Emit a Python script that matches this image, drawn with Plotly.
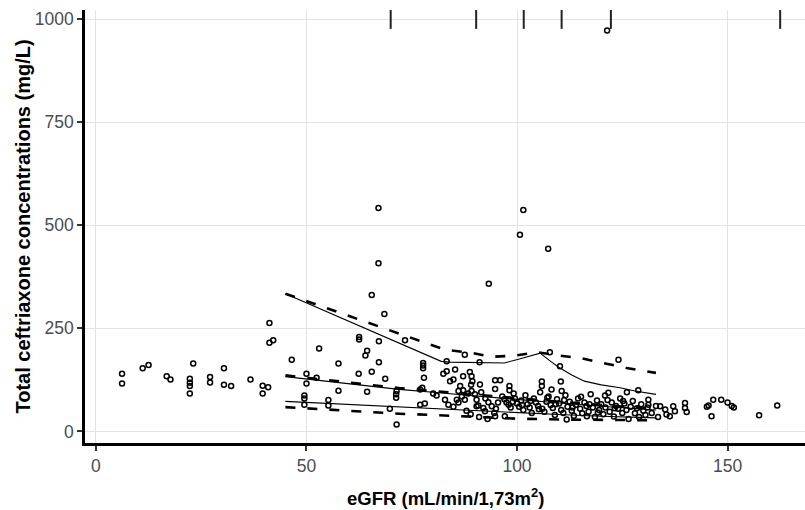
import plotly.graph_objects as go

# ---- observed data (eGFR, total ceftriaxone concentration) ----
obs_egfr = [
    6.2, 6.2, 11.1, 12.5, 16.8, 17.7, 22.3, 22.3, 22.3, 22.3, 23.1, 27.1, 27.1, 30.4, 30.4, 32.1,
    36.7, 39.6, 39.6, 40.9, 41.2, 41.2, 42.1,
    46.5, 50.0, 50.0, 52.4, 49.5, 49.5, 49.5, 53.0, 55.2, 55.2, 57.6, 57.6, 62.5, 62.5, 65.5, 68.5,
    67.2, 64.4, 64.0, 62.4, 65.5, 67.2, 68.7, 64.4, 71.4, 71.3, 71.3, 69.8, 67.1, 67.1, 93.3, 101.5,
    100.7, 107.4, 121.4,
    73.4, 87.6, 83.3, 91.1, 77.7, 77.7, 77.7, 77.9, 82.5, 83.3, 85.3, 84.1, 84.9, 87.2, 88.8, 89.2,
    89.4, 89.1, 91.2, 94.8, 96.0, 94.8, 86.5, 86.1, 87.2, 77.0, 77.5, 80.1, 80.9, 71.4, 77.0, 78.1,
    82.9, 83.7, 84.9, 85.7, 86.1, 86.9, 87.6, 88.4, 89.2, 90.0, 90.4, 90.8, 92.0, 93.2, 94.0, 94.6,
    90.4, 92.4, 94.8,
    107.8, 98.2, 98.2, 105.9, 105.9, 110.4, 108.2, 110.6, 120.9, 121.7, 97.1, 111.8, 116.6, 110.2,
    96.5, 97.0, 97.5, 98.0, 98.5, 99.0, 99.5, 100.0, 100.5, 101.0, 101.5, 102.0, 102.5, 103.0, 103.5,
    104.0, 104.5, 105.0, 105.5, 106.0, 106.5, 107.0, 107.5, 108.0, 108.5, 109.0, 109.5, 110.0, 110.5,
    111.0, 111.5, 112.0, 112.5, 113.0, 113.5, 114.0, 114.5, 115.0, 115.5, 116.0, 116.5, 117.0, 117.5,
    118.0, 118.5, 119.0, 119.5, 120.0, 120.5, 121.0, 122.0, 122.5, 123.0, 123.5, 124.0, 124.5, 125.0,
    125.5, 126.0, 126.5, 127.0, 127.5, 128.0, 128.5, 129.0, 129.5, 130.0, 130.5, 131.0, 132.0, 133.0,
    133.5, 88.0, 89.0, 91.0, 93.0, 95.0, 95.5, 92.5, 91.5,
    124.1, 126.1, 128.8, 131.2, 131.2, 134.0, 135.2, 135.5, 136.3, 137.1, 137.5, 139.9, 139.9, 140.3,
    145.1, 146.6, 146.2, 145.5, 148.5, 150.0, 151.0, 151.5, 157.5, 161.8,
    99.2, 101.2, 103.2, 105.2, 107.2, 109.2, 111.2, 113.2, 115.2, 117.2, 119.2, 121.5, 123.2, 125.2,
]
obs_conc = [
    140, 116, 153, 161, 134, 126, 128, 118, 110, 92, 165, 132, 119, 153, 113, 110,
    126, 111, 92, 107, 263, 215, 221,
    174, 140, 116, 130, 87, 80, 65, 201, 76, 63, 165, 99, 229, 223, 331, 285,
    219, 196, 184, 140, 145, 168, 128, 96, 17, 90, 82, 55, 542, 408, 358, 537,
    477, 443, 972,
    221, 186, 170, 168, 166, 160, 153, 130, 140, 146, 150, 122, 126, 134, 144, 134,
    122, 113, 114, 124, 124, 103, 110, 98, 100, 102, 106, 92, 87, 98, 65, 68,
    77, 65, 60, 77, 70, 85, 77, 92, 98, 90, 77, 63, 57, 71, 61, 45,
    61, 49, 37,
    192, 110, 100, 121, 110, 121, 102, 98, 87, 94, 37, 29, 37, 158,
    85, 78, 70, 65, 58, 72, 80, 68, 60, 75, 52, 88, 66, 58, 45,
    80, 70, 62, 95, 55, 48, 72, 85, 64, 57, 40, 78, 68, 52,
    45, 88, 60, 72, 50, 38, 65, 80, 55, 44, 70, 62, 48, 90,
    58, 35, 75, 52, 66, 42, 58, 48, 70, 36, 62, 55, 80, 45,
    68, 52, 30, 60, 74, 44, 56, 35, 66, 50, 40, 58, 45, 62,
    35, 50, 42, 35, 30, 55, 70, 80, 95,
    174, 95, 100, 77, 65, 61, 53, 41, 37, 61, 49, 69, 57, 47,
    60, 77, 37, 63, 77, 70, 62, 58, 39, 63,
    92, 64, 74, 54, 82, 66, 76, 58, 84, 66, 46, 76, 56, 74,
]

# ---- rug marks on top (eGFR) ----
rug_egfr = [70.0, 90.3, 101.6, 110.6, 122.3, 162.5]
rug_level = [1000, 1000, 1000, 1000, 1000, 1000]

# ---- prediction interval lines ----
up_solid_x = [45, 82, 84, 90, 97, 101, 105.5, 108, 110, 113, 116, 120, 124.5, 128, 133]
up_solid_y = [334, 170, 168, 167, 166, 177, 190, 170, 155, 137, 122, 113, 106, 98, 90]
up_dash_x = [45, 83, 89, 94, 99.5, 105, 110, 115, 120.5, 126, 133]
up_dash_y = [334, 198, 191, 181, 184, 192, 184, 178, 166, 154, 142]

mid_x = [45, 55, 65, 72, 80, 90, 100, 110, 120, 130, 133]
mid_solid_y = [133, 121, 110, 102, 95, 86, 77, 69, 61, 54, 52]
mid_dash_y = [136, 124, 113, 105, 98, 89, 80, 72, 64, 57, 55]

low_x = [45, 55, 65, 72, 80, 90, 100, 110, 120, 130, 133]
low_solid_y = [73, 68, 63, 60, 55, 50, 45, 41, 37, 34, 33]
low_dash_y = [59, 53, 46, 43, 40, 36, 31, 29, 28, 27, 27]

x_title = "eGFR (mL/min/1,73m<sup>2</sup>)"
y_title = "Total ceftriaxone concentrations (mg/L)"

fig = go.Figure()

def add_line(x, y, dashed):
    fig.add_trace(go.Scatter(
        x=x, y=y, mode="lines", showlegend=False, hoverinfo="skip",
        line=dict(color="black", width=2.6 if dashed else 1.1,
                  dash="10px,12px" if dashed else "solid"),
    ))

add_line(up_solid_x, up_solid_y, False)
add_line(up_dash_x, up_dash_y, True)
add_line(mid_x, mid_solid_y, False)
add_line(mid_x, mid_dash_y, True)
add_line(low_x, low_solid_y, False)
add_line(low_x, low_dash_y, True)

fig.add_trace(go.Scatter(
    x=obs_egfr, y=obs_conc, mode="markers", showlegend=False,
    marker=dict(symbol="circle-open", size=5, color="black", line=dict(width=1.5, color="black")),
))

fig.add_trace(go.Scatter(
    x=rug_egfr, y=rug_level, mode="markers", showlegend=False,
    marker=dict(symbol="line-ns", size=14, line=dict(width=2, color="#222222")),
))

FAM = "Liberation Sans, Arial, sans-serif"
tickfont = dict(family=FAM, size=17.5, color="#4d4d4d")

fig.update_layout(
    width=805, height=510,
    margin=dict(l=85, r=0, t=10, b=67, autoexpand=False),
    plot_bgcolor="white", paper_bgcolor="white",
    xaxis=dict(
        range=[-2.6, 168.4], tickvals=[0, 50, 100, 150], ticktext=["0", "50", "100", "150"],
        showgrid=True, gridcolor="#e3e3e3", gridwidth=1, zeroline=False,
        showline=True, linecolor="black", linewidth=2.5,
        ticks="outside", ticklen=5, tickwidth=1.5, tickcolor="#333333",
        tickfont=tickfont, automargin=False,
    ),
    yaxis=dict(
        range=[-28, 1022], tickvals=[0, 250, 500, 750, 1000],
        ticktext=["0", "250", "500", "750", "1000"],
        showgrid=True, gridcolor="#e3e3e3", gridwidth=1, zeroline=False,
        showline=True, linecolor="black", linewidth=2.5,
        ticks="outside", ticklen=5, tickwidth=1.5, tickcolor="#333333",
        tickfont=tickfont, automargin=False,
    ),
    annotations=[
        dict(text=y_title, xref="paper", yref="paper", x=-0.0875, y=0.5,
             xanchor="center", yanchor="middle", textangle=-90, showarrow=False,
             font=dict(family=FAM, size=20, color="black", weight="bold")),
        dict(text=x_title, xref="paper", yref="paper", x=0.5, y=-0.1247,
             xanchor="center", yanchor="middle", showarrow=False,
             font=dict(family=FAM, size=18.5, color="black", weight="bold")),
    ],
)

fig.write_html(
    "out.html",
    config={"displayModeBar": False},
    post_script="document.body.style.margin='0px';document.body.style.overflow='hidden';",
)
